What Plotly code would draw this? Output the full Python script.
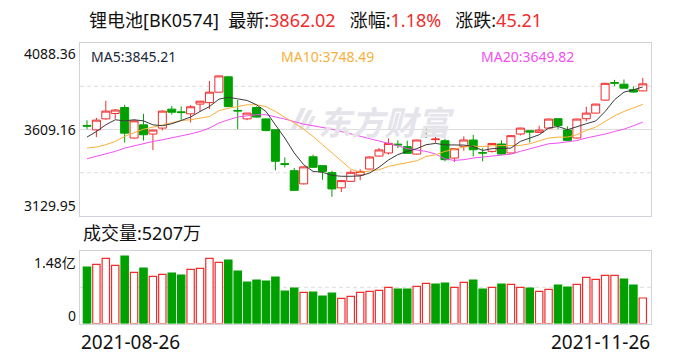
import plotly.graph_objects as go

# ---------------- data ----------------
date_labels = ["2021-08-26", "2021-11-26"]

opens = [3631, 3607, 3668, 3698, 3731, 3562, 3635, 3584, 3617, 3722,
         3707, 3696, 3750, 3758, 3816, 3901, 3715, 3668, 3731, 3668,
         3608, 3420, 3381, 3308, 3458, 3409, 3370, 3286, 3322, 3357,
         3390, 3462, 3479, 3528, 3514, 3473, 3577, 3553, 3547, 3451,
         3516, 3551, 3481, 3488, 3529, 3479, 3584, 3602, 3593, 3617,
         3669, 3606, 3562, 3669, 3700, 3772, 3869, 3860, 3830, 3823]
highs = [3660, 3674, 3768, 3722, 3746, 3663, 3696, 3608, 3716, 3739,
         3737, 3744, 3768, 3878, 3907, 3905, 3773, 3701, 3737, 3670,
         3610, 3455, 3396, 3405, 3470, 3410, 3381, 3330, 3383, 3389,
         3460, 3507, 3560, 3550, 3547, 3552, 3617, 3576, 3558, 3504,
         3571, 3580, 3506, 3533, 3549, 3577, 3619, 3604, 3630, 3669,
         3670, 3626, 3669, 3735, 3752, 3868, 3884, 3886, 3847, 3895]
lows = [3611, 3567, 3663, 3668, 3537, 3560, 3548, 3495, 3604, 3692,
        3663, 3648, 3709, 3722, 3815, 3733, 3611, 3661, 3676, 3598,
        3383, 3399, 3270, 3305, 3397, 3331, 3236, 3263, 3320, 3328,
        3388, 3460, 3470, 3506, 3474, 3471, 3562, 3535, 3433, 3429,
        3492, 3460, 3433, 3481, 3470, 3477, 3576, 3537, 3592, 3615,
        3612, 3547, 3560, 3654, 3698, 3769, 3850, 3838, 3812, 3821]
closes = [3628, 3661, 3711, 3717, 3589, 3657, 3580, 3606, 3711, 3705,
          3703, 3735, 3766, 3816, 3906, 3736, 3712, 3700, 3678, 3604,
          3433, 3416, 3272, 3402, 3400, 3377, 3280, 3326, 3372, 3377,
          3457, 3496, 3532, 3524, 3477, 3551, 3575, 3556, 3442, 3503,
          3551, 3497, 3479, 3532, 3473, 3575, 3617, 3595, 3606, 3667,
          3631, 3549, 3667, 3700, 3750, 3865, 3866, 3838, 3816.81, 3862.02]
first_prev_close = 3645.0

# volume in units of 1e8 (亿)
volumes = [1.152, 1.208, 1.331, 1.187, 1.378, 1.044, 1.132, 0.962, 1.003, 1.030,
           0.989, 1.105, 1.126, 1.331, 1.249, 1.296, 1.071, 0.845, 0.886, 0.866,
           0.948, 0.661, 0.723, 0.635, 0.641, 0.559, 0.620, 0.512, 0.553, 0.635,
           0.655, 0.676, 0.737, 0.702, 0.702, 0.757, 0.819, 0.804, 0.825, 0.737,
           0.839, 0.886, 0.702, 0.737, 0.804, 0.798, 0.737, 0.723, 0.655, 0.696,
           0.784, 0.743, 0.798, 0.942, 0.901, 0.983, 0.983, 0.907, 0.784, 0.5207]

ma5 = [3567, 3598, 3635, 3663, 3657, 3663, 3657, 3635, 3630, 3641,
       3659, 3678, 3709, 3736, 3777, 3788, 3779, 3770, 3746, 3709,
       3635, 3562, 3479, 3414, 3377, 3372, 3355, 3350, 3350, 3352,
       3368, 3400, 3440, 3470, 3488, 3503, 3525, 3532, 3524, 3523,
       3523, 3515, 3493, 3503, 3505, 3506, 3543, 3562, 3580, 3617,
       3626, 3608, 3626, 3641, 3656, 3709, 3774, 3816, 3829, 3845.21]
ma10 = [3506, 3512, 3525, 3543, 3571, 3589, 3611, 3622, 3635, 3648,
        3659, 3663, 3670, 3681, 3713, 3727, 3736, 3746, 3746, 3736,
        3709, 3678, 3645, 3611, 3571, 3525, 3479, 3432, 3390, 3372,
        3377, 3386, 3405, 3414, 3423, 3436, 3460, 3469, 3488, 3501,
        3512, 3517, 3515, 3519, 3519, 3519, 3521, 3530, 3547, 3562,
        3567, 3567, 3580, 3604, 3622, 3653, 3685, 3709, 3731, 3748.49]
ma20 = [3447, 3460, 3473, 3488, 3506, 3519, 3534, 3543, 3552, 3565,
        3574, 3585, 3598, 3617, 3645, 3663, 3678, 3685, 3691, 3691,
        3681, 3667, 3653, 3639, 3630, 3622, 3611, 3598, 3585, 3574,
        3562, 3547, 3534, 3519, 3503, 3497, 3488, 3473, 3446, 3438,
        3442, 3451, 3457, 3462, 3468, 3473, 3488, 3501, 3515, 3530,
        3534, 3543, 3548, 3562, 3571, 3584, 3598, 3611, 3630, 3649.82]

price_ticks = [3129.95, 3609.16, 4088.36]
vol_top = 1.48
vol_tick_labels = ["0", "1.48亿"]

title_name = "锂电池[BK0574]"
latest = "3862.02"
pct = "1.18%"
chg = "45.21"
vol_label = "成交量:5207万"
wm_text = "东方财富"

# ---------------- style ----------------
W, H = 688, 360
RED = "#f02c2c"
GREEN = "#00a000"
BORDER = "#d2d2da"
GRID = "#dcdcdc"
WM = "#e4e4ea"
FONT = "Noto Sans, Noto Sans CJK SC, sans-serif"

x = list(range(len(closes)))
prev = [first_prev_close] + closes[:-1]
vol_up = [c >= p for c, p in zip(closes, prev)]
vol_fill = ["white" if u else GREEN for u in vol_up]
vol_line = [RED if u else GREEN for u in vol_up]

px = lambda v: v / W
py = lambda v: 1 - v / H

xr = [-0.74, len(x) - 1 + 0.87]

fig = go.Figure()

fig.add_trace(go.Candlestick(
    x=x, open=opens, high=highs, low=lows, close=closes,
    increasing=dict(line=dict(color=RED, width=1), fillcolor="white"),
    decreasing=dict(line=dict(color=GREEN, width=1), fillcolor=GREEN),
    whiskerwidth=0, xaxis="x", yaxis="y", showlegend=False, hoverinfo="none"))

for ma, col in ((ma20, "#f24ff2"), (ma10, "#f8b03a"), (ma5, "#3a3a3a")):
    fig.add_trace(go.Scatter(x=x, y=ma, mode="lines", line=dict(color=col, width=1),
                             xaxis="x", yaxis="y", showlegend=False, hoverinfo="none"))

fig.add_trace(go.Bar(
    x=x, y=[v * 1e8 for v in volumes], width=0.78,
    marker=dict(color=vol_fill, line=dict(color=vol_line, width=1.2)),
    xaxis="x2", yaxis="y2", showlegend=False, hoverinfo="none"))

ax_common = dict(showgrid=False, zeroline=False, showticklabels=False, ticks="",
                 showline=True, mirror=True, linecolor=BORDER, linewidth=1, fixedrange=True)

fig.update_layout(
    width=W, height=H, margin=dict(l=0, r=0, t=0, b=0),
    paper_bgcolor="white", plot_bgcolor="white",
    boxgap=0.15, boxgroupgap=0, bargap=0,
    xaxis=dict(domain=[px(80), px(651)], range=xr, anchor="y",
               rangeslider=dict(visible=False), **ax_common),
    yaxis=dict(domain=[py(216), py(43)], range=[price_ticks[0], price_ticks[-1]],
               anchor="x", **ax_common),
    xaxis2=dict(domain=[px(80), px(651)], range=xr, anchor="y2", **ax_common),
    yaxis2=dict(domain=[py(323.5), py(251)], range=[0, vol_top * 1e8], anchor="x2", **ax_common),
    font=dict(family=FONT),
)

shapes = []
q1 = price_ticks[0] + (price_ticks[-1] - price_ticks[0]) * 0.25
q3 = price_ticks[0] + (price_ticks[-1] - price_ticks[0]) * 0.75
for yv, dash in ((q1, "4px,3px"), (q3, "4px,3px"), (price_ticks[1], "solid")):
    shapes.append(dict(type="line", xref="x domain", yref="y", x0=0, x1=1, y0=yv, y1=yv,
                       line=dict(color=GRID, width=1, dash=dash), layer="below"))
shapes.append(dict(type="line", xref="x2 domain", yref="y2", x0=0, x1=1,
                   y0=vol_top * 1e8 / 2, y1=vol_top * 1e8 / 2,
                   line=dict(color=GRID, width=1, dash="4px,3px"), layer="below"))

# watermark logo (decorative, slanted feather strokes)
def poly(pts):
    return "M " + " L ".join(f"{px(a):.5f},{py(b):.5f}" for a, b in pts) + " Z"
for pts in ([(291, 129), (296, 129), (306, 108), (301, 108)],
            [(298, 129), (303, 129), (313, 110), (308, 110)],
            [(305, 129), (309, 129), (316, 116), (312, 116)]):
    shapes.append(dict(type="path", xref="paper", yref="paper", path=poly(pts),
                       fillcolor=WM, line=dict(width=0), layer="below"))
fig.update_layout(shapes=shapes)

ann = []
def A(text, x, y, size, color="#111", xanchor="left", yanchor="middle", xref="paper", yref="paper", yshift=0):
    ann.append(dict(text=text, x=x, y=y, xref=xref, yref=yref, xanchor=xanchor, yanchor=yanchor,
                    showarrow=False, yshift=yshift, font=dict(size=size, color=color, family=FONT)))

sp2 = "\u00a0\u00a0"
sp3 = "\u00a0\u00a0\u00a0"
title = (f"{title_name}{sp2}最新:<span style='color:{RED}'>{latest}</span>{sp3}"
         f"涨幅:<span style='color:{RED}'>{pct}</span>{sp3}"
         f"涨跌:<span style='color:{RED}'>{chg}</span>")
A(title, px(87), py(20), 18)

# watermark
A(f"<b><i>{wm_text}</i></b>", px(386), py(122), 33, color=WM, xanchor="center")

# price labels
A(f"{price_ticks[2]:.2f}", px(78), price_ticks[2], 14, xanchor="right", yref="y", yshift=-10)
A(f"{price_ticks[1]:.2f}", px(78), price_ticks[1], 14, xanchor="right", yref="y")
A(f"{price_ticks[0]:.2f}", px(78), price_ticks[0], 14, xanchor="right", yref="y", yshift=11)

# MA labels
A(f"MA5:{ma5[-1]:.2f}", px(89), py(56), 14, color="#1b2738")
A(f"MA10:{ma10[-1]:.2f}", px(279), py(56), 14, color="#f8b03a")
A(f"MA20:{ma20[-1]:.2f}", px(479), py(56), 14, color="#f24ff2")

# volume labels
A(vol_label, px(81), py(233), 18)
A(vol_tick_labels[1], px(78), vol_top * 1e8, 14, xanchor="right", yref="y2", yshift=-11)
A(vol_tick_labels[0], px(78), 0, 14, xanchor="right", yref="y2", yshift=8)

# dates
A(date_labels[0], px(79), py(342), 19)
A(date_labels[1], px(652), py(342), 19, xanchor="right")

fig.update_layout(annotations=ann)
fig.write_html("out.html", config={"displayModeBar": False, "staticPlot": True},
               post_script="document.body.style.margin='0';document.body.style.padding='0';")
